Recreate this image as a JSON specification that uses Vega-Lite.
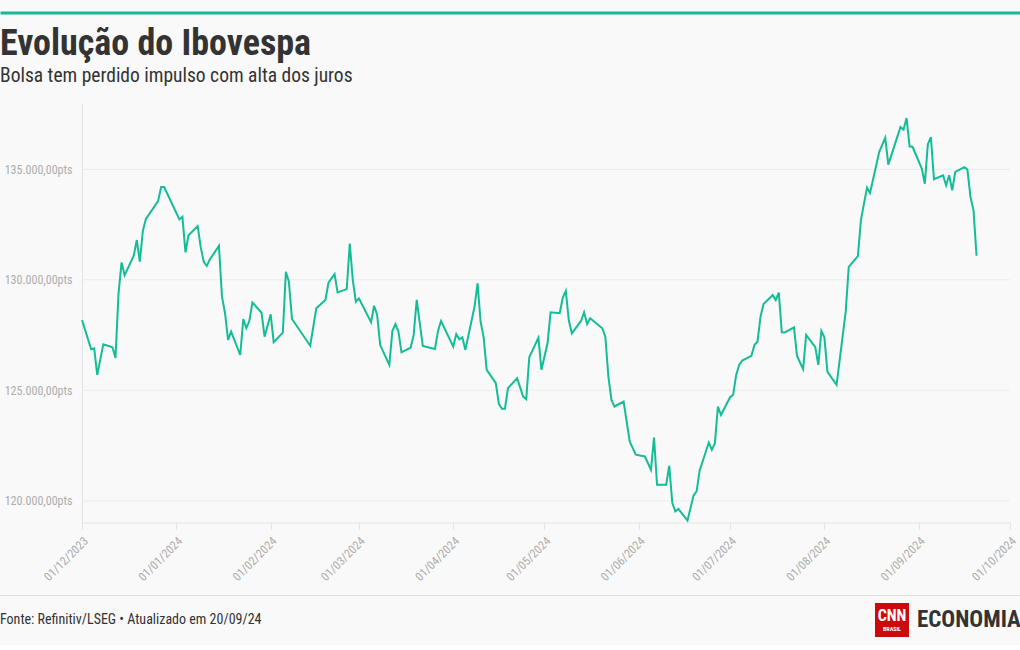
{
  "$schema": "https://vega.github.io/schema/vega-lite/v6.json",
  "background": "#f9f9f9",
  "padding": 0,
  "spacing": 12,
  "columns": 1,
  "bounds": "full",
  "resolve": {"scale": {"x": "independent", "y": "independent"}},
  "config": {
    "view": {"stroke": null},
    "font": "Roboto Condensed, Liberation Sans Narrow, Roboto, sans-serif"
  },
  "datasets": {
    "ibov": [
      {"date": "2023-12-01", "close": 128180},
      {"date": "2023-12-04", "close": 126860},
      {"date": "2023-12-05", "close": 126900},
      {"date": "2023-12-06", "close": 125700},
      {"date": "2023-12-08", "close": 127080},
      {"date": "2023-12-11", "close": 126950},
      {"date": "2023-12-12", "close": 126470},
      {"date": "2023-12-13", "close": 129390},
      {"date": "2023-12-14", "close": 130790},
      {"date": "2023-12-15", "close": 130210},
      {"date": "2023-12-18", "close": 131090},
      {"date": "2023-12-19", "close": 131800},
      {"date": "2023-12-20", "close": 130820},
      {"date": "2023-12-21", "close": 132220},
      {"date": "2023-12-22", "close": 132760},
      {"date": "2023-12-26", "close": 133560},
      {"date": "2023-12-27", "close": 134200},
      {"date": "2023-12-28", "close": 134200},
      {"date": "2024-01-02", "close": 132730},
      {"date": "2024-01-03", "close": 132850},
      {"date": "2024-01-04", "close": 131240},
      {"date": "2024-01-05", "close": 132020},
      {"date": "2024-01-08", "close": 132430},
      {"date": "2024-01-09", "close": 131490},
      {"date": "2024-01-10", "close": 130820},
      {"date": "2024-01-11", "close": 130630},
      {"date": "2024-01-12", "close": 130920},
      {"date": "2024-01-15", "close": 131540},
      {"date": "2024-01-16", "close": 129240},
      {"date": "2024-01-17", "close": 128490},
      {"date": "2024-01-18", "close": 127280},
      {"date": "2024-01-19", "close": 127660},
      {"date": "2024-01-22", "close": 126600},
      {"date": "2024-01-23", "close": 128230},
      {"date": "2024-01-24", "close": 127810},
      {"date": "2024-01-25", "close": 128140},
      {"date": "2024-01-26", "close": 128980},
      {"date": "2024-01-29", "close": 128510},
      {"date": "2024-01-30", "close": 127430},
      {"date": "2024-02-01", "close": 128440},
      {"date": "2024-02-02", "close": 127180},
      {"date": "2024-02-05", "close": 127610},
      {"date": "2024-02-06", "close": 130360},
      {"date": "2024-02-07", "close": 129910},
      {"date": "2024-02-08", "close": 128230},
      {"date": "2024-02-14", "close": 127020},
      {"date": "2024-02-16", "close": 128710},
      {"date": "2024-02-19", "close": 129090},
      {"date": "2024-02-20", "close": 129870},
      {"date": "2024-02-22", "close": 130260},
      {"date": "2024-02-23", "close": 129430},
      {"date": "2024-02-26", "close": 129580},
      {"date": "2024-02-27", "close": 131640},
      {"date": "2024-02-28", "close": 129990},
      {"date": "2024-02-29", "close": 129010},
      {"date": "2024-03-01", "close": 129160},
      {"date": "2024-03-05", "close": 128080},
      {"date": "2024-03-06", "close": 128830},
      {"date": "2024-03-07", "close": 128410},
      {"date": "2024-03-08", "close": 127050},
      {"date": "2024-03-11", "close": 126150},
      {"date": "2024-03-12", "close": 127690},
      {"date": "2024-03-13", "close": 128000},
      {"date": "2024-03-14", "close": 127660},
      {"date": "2024-03-15", "close": 126720},
      {"date": "2024-03-18", "close": 126930},
      {"date": "2024-03-19", "close": 127510},
      {"date": "2024-03-20", "close": 129090},
      {"date": "2024-03-22", "close": 127010},
      {"date": "2024-03-26", "close": 126870},
      {"date": "2024-03-27", "close": 127690},
      {"date": "2024-03-28", "close": 128140},
      {"date": "2024-04-01", "close": 126980},
      {"date": "2024-04-02", "close": 127540},
      {"date": "2024-04-03", "close": 127310},
      {"date": "2024-04-04", "close": 127400},
      {"date": "2024-04-05", "close": 126830},
      {"date": "2024-04-08", "close": 128780},
      {"date": "2024-04-09", "close": 129840},
      {"date": "2024-04-10", "close": 128110},
      {"date": "2024-04-11", "close": 127400},
      {"date": "2024-04-12", "close": 125930},
      {"date": "2024-04-15", "close": 125330},
      {"date": "2024-04-16", "close": 124390},
      {"date": "2024-04-17", "close": 124170},
      {"date": "2024-04-18", "close": 124170},
      {"date": "2024-04-19", "close": 125100},
      {"date": "2024-04-22", "close": 125550},
      {"date": "2024-04-24", "close": 124720},
      {"date": "2024-04-25", "close": 124600},
      {"date": "2024-04-26", "close": 126500},
      {"date": "2024-04-29", "close": 127380},
      {"date": "2024-04-30", "close": 125930},
      {"date": "2024-05-02", "close": 127130},
      {"date": "2024-05-03", "close": 128530},
      {"date": "2024-05-06", "close": 128490},
      {"date": "2024-05-07", "close": 129190},
      {"date": "2024-05-08", "close": 129500},
      {"date": "2024-05-09", "close": 128160},
      {"date": "2024-05-10", "close": 127580},
      {"date": "2024-05-13", "close": 128140},
      {"date": "2024-05-14", "close": 128530},
      {"date": "2024-05-15", "close": 128000},
      {"date": "2024-05-16", "close": 128260},
      {"date": "2024-05-20", "close": 127810},
      {"date": "2024-05-21", "close": 127430},
      {"date": "2024-05-22", "close": 125620},
      {"date": "2024-05-23", "close": 124570},
      {"date": "2024-05-24", "close": 124270},
      {"date": "2024-05-27", "close": 124490},
      {"date": "2024-05-29", "close": 122690},
      {"date": "2024-05-31", "close": 122090},
      {"date": "2024-06-03", "close": 122010},
      {"date": "2024-06-05", "close": 121410},
      {"date": "2024-06-06", "close": 122870},
      {"date": "2024-06-07", "close": 120730},
      {"date": "2024-06-10", "close": 120730},
      {"date": "2024-06-11", "close": 121590},
      {"date": "2024-06-12", "close": 119910},
      {"date": "2024-06-13", "close": 119530},
      {"date": "2024-06-14", "close": 119640},
      {"date": "2024-06-17", "close": 119110},
      {"date": "2024-06-19", "close": 120250},
      {"date": "2024-06-20", "close": 120430},
      {"date": "2024-06-21", "close": 121380},
      {"date": "2024-06-24", "close": 122640},
      {"date": "2024-06-25", "close": 122310},
      {"date": "2024-06-26", "close": 122610},
      {"date": "2024-06-27", "close": 124270},
      {"date": "2024-06-28", "close": 123890},
      {"date": "2024-07-01", "close": 124690},
      {"date": "2024-07-02", "close": 124800},
      {"date": "2024-07-03", "close": 125700},
      {"date": "2024-07-04", "close": 126150},
      {"date": "2024-07-05", "close": 126350},
      {"date": "2024-07-08", "close": 126560},
      {"date": "2024-07-09", "close": 127050},
      {"date": "2024-07-10", "close": 127200},
      {"date": "2024-07-11", "close": 128330},
      {"date": "2024-07-12", "close": 128910},
      {"date": "2024-07-15", "close": 129310},
      {"date": "2024-07-16", "close": 129090},
      {"date": "2024-07-17", "close": 129420},
      {"date": "2024-07-18", "close": 127630},
      {"date": "2024-07-19", "close": 127620},
      {"date": "2024-07-22", "close": 127850},
      {"date": "2024-07-23", "close": 126560},
      {"date": "2024-07-25", "close": 125960},
      {"date": "2024-07-26", "close": 127510},
      {"date": "2024-07-29", "close": 126950},
      {"date": "2024-07-30", "close": 126150},
      {"date": "2024-07-31", "close": 127690},
      {"date": "2024-08-01", "close": 127400},
      {"date": "2024-08-02", "close": 125840},
      {"date": "2024-08-05", "close": 125250},
      {"date": "2024-08-08", "close": 128560},
      {"date": "2024-08-09", "close": 130590},
      {"date": "2024-08-12", "close": 131070},
      {"date": "2024-08-13", "close": 132700},
      {"date": "2024-08-15", "close": 134170},
      {"date": "2024-08-16", "close": 133930},
      {"date": "2024-08-19", "close": 135780},
      {"date": "2024-08-21", "close": 136430},
      {"date": "2024-08-22", "close": 135210},
      {"date": "2024-08-26", "close": 136910},
      {"date": "2024-08-27", "close": 136790},
      {"date": "2024-08-28", "close": 137320},
      {"date": "2024-08-29", "close": 136040},
      {"date": "2024-08-30", "close": 136010},
      {"date": "2024-09-02", "close": 135030},
      {"date": "2024-09-03", "close": 134350},
      {"date": "2024-09-04", "close": 136130},
      {"date": "2024-09-05", "close": 136460},
      {"date": "2024-09-06", "close": 134550},
      {"date": "2024-09-09", "close": 134730},
      {"date": "2024-09-10", "close": 134280},
      {"date": "2024-09-11", "close": 134730},
      {"date": "2024-09-12", "close": 134050},
      {"date": "2024-09-13", "close": 134880},
      {"date": "2024-09-16", "close": 135100},
      {"date": "2024-09-17", "close": 134990},
      {"date": "2024-09-18", "close": 133750},
      {"date": "2024-09-19", "close": 133150},
      {"date": "2024-09-20", "close": 131090}
    ]
  },
  "concat": [
    {
      "width": 1020,
      "height": 12.5,
      "data": {"name": "ibov"},
      "mark": {"type": "point", "opacity": 0},
      "encoding": {
        "x": {
          "field": "close",
          "type": "quantitative",
          "scale": {"domain": [119000, 138000], "nice": false, "zero": false},
          "axis": {"orient": "bottom", "domainColor": "#17b89b", "domainWidth": 2.8, "ticks": false, "labels": false, "grid": false, "title": null}
        }
      }
    },
    {
      "width": 1010,
      "height": 420,
      "title": {
        "text": "Evolução do Ibovespa",
        "subtitle": "Bolsa tem perdido impulso com alta dos juros",
        "anchor": "start",
        "frame": "bounds",
        "font": "Roboto Condensed, Liberation Sans Narrow, Roboto, sans-serif",
        "fontSize": 36,
        "fontWeight": "bold",
        "color": "#333333",
        "subtitleFont": "Roboto Condensed, Liberation Sans Narrow, Roboto, sans-serif",
        "subtitleFontSize": 19.5,
        "subtitleColor": "#333333",
        "subtitlePadding": 4,
        "offset": 17
      },
      "layer": [
        {
          "data": {"values": [{}]},
          "mark": {"type": "rule", "color": "#ececec", "strokeWidth": 1},
          "encoding": {
            "x": {"datum": {"year": 2023, "month": 12, "date": 1, "utc": true}, "type": "temporal"},
            "x2": {"datum": {"year": 2024, "month": 10, "date": 1, "utc": true}},
            "y": {"datum": 120000, "type": "quantitative"}
          }
        },
        {
          "data": {"values": [{}]},
          "mark": {"type": "rule", "color": "#ececec", "strokeWidth": 1},
          "encoding": {
            "x": {"datum": {"year": 2023, "month": 12, "date": 1, "utc": true}, "type": "temporal"},
            "x2": {"datum": {"year": 2024, "month": 10, "date": 1, "utc": true}},
            "y": {"datum": 125000, "type": "quantitative"}
          }
        },
        {
          "data": {"values": [{}]},
          "mark": {"type": "rule", "color": "#ececec", "strokeWidth": 1},
          "encoding": {
            "x": {"datum": {"year": 2023, "month": 12, "date": 1, "utc": true}, "type": "temporal"},
            "x2": {"datum": {"year": 2024, "month": 10, "date": 1, "utc": true}},
            "y": {"datum": 130000, "type": "quantitative"}
          }
        },
        {
          "data": {"values": [{}]},
          "mark": {"type": "rule", "color": "#ececec", "strokeWidth": 1},
          "encoding": {
            "x": {"datum": {"year": 2023, "month": 12, "date": 1, "utc": true}, "type": "temporal"},
            "x2": {"datum": {"year": 2024, "month": 10, "date": 1, "utc": true}},
            "y": {"datum": 135000, "type": "quantitative"}
          }
        },
        {
          "data": {"values": [{}]},
          "mark": {"type": "rule", "color": "#e3e3e3", "strokeWidth": 1},
          "encoding": {
            "x": {"datum": {"year": 2023, "month": 12, "date": 1, "utc": true}, "type": "temporal"},
            "x2": {"datum": {"year": 2024, "month": 10, "date": 1, "utc": true}},
            "y": {"datum": 119000, "type": "quantitative"}
          }
        },
        {
          "data": {"name": "ibov"},
          "mark": {"type": "line", "color": "#13bd96", "strokeWidth": 2},
          "encoding": {
            "x": {
              "field": "date",
              "type": "temporal",
              "scale": {"type": "utc", "domain": [{"year": 2023, "month": 11, "date": 4, "hours": 1, "utc": true}, {"year": 2024, "month": 10, "date": 1, "utc": true}]},
              "axis": {
                "title": null,
                "labelExpr": "utcFormat(datum.value, '%d/%m/%Y')",
                "values": [
                  {"year": 2023, "month": 12, "date": 1, "utc": true},
                  {"year": 2024, "month": 1, "date": 1, "utc": true},
                  {"year": 2024, "month": 2, "date": 1, "utc": true},
                  {"year": 2024, "month": 3, "date": 1, "utc": true},
                  {"year": 2024, "month": 4, "date": 1, "utc": true},
                  {"year": 2024, "month": 5, "date": 1, "utc": true},
                  {"year": 2024, "month": 6, "date": 1, "utc": true},
                  {"year": 2024, "month": 7, "date": 1, "utc": true},
                  {"year": 2024, "month": 8, "date": 1, "utc": true},
                  {"year": 2024, "month": 9, "date": 1, "utc": true},
                  {"year": 2024, "month": 10, "date": 1, "utc": true}
                ],
                "labelAngle": -45,
                "labelAlign": "right",
                "labelBaseline": "top",
                "labelColor": "#adadad",
                "labelFontSize": 12,
                "labelPadding": 6,
                "labelFont": "Roboto Condensed, Liberation Sans Narrow, Roboto, sans-serif",
                "labelOverlap": false,
                "labelFlush": false,
                "tickColor": "#e3e3e3",
                "tickSize": 6,
                "domain": false,
                "grid": false
              }
            },
            "y": {
              "field": "close",
              "type": "quantitative",
              "scale": {"domain": [119000, 138000], "nice": false, "zero": false},
              "axis": {
                "title": null,
                "offset": -82,
                "values": [120000, 125000, 130000, 135000],
                "labelExpr": "replace(replace(replace(format(datum.value, ',.2f'), ',', 'X'), '.', ','), 'X', '.') + 'pts'",
                "labelColor": "#adadad",
                "labelFontSize": 12,
                "labelFont": "Roboto Condensed, Liberation Sans Narrow, Roboto, sans-serif",
                "labelPadding": 10,
                "ticks": false,
                "domainColor": "#e3e3e3",
                "grid": false
              }
            }
          }
        }
      ]
    },
    {
      "width": 1020,
      "height": 50,
      "data": {"values": [{}]},
      "layer": [
        {
          "mark": {"type": "text", "text": "Fonte: Refinitiv/LSEG • Atualizado em 20/09/24", "align": "left", "baseline": "middle", "fontSize": 14, "color": "#333333"},
          "encoding": {
            "x": {
              "datum": 0,
              "type": "quantitative",
              "scale": {"domain": [0, 1], "nice": false},
              "axis": {"orient": "top", "domainColor": "#dddddd", "domainWidth": 1, "ticks": false, "labels": false, "grid": false, "title": null, "offset": 0}
            }
          }
        },
        {
          "mark": {"type": "point", "shape": "square", "size": 1156, "filled": true, "color": "#cc0a0a", "opacity": 1, "strokeWidth": 0},
          "encoding": {"x": {"datum": 0.8745, "type": "quantitative"}}
        },
        {
          "mark": {"type": "text", "text": "CNN", "align": "center", "baseline": "middle", "fontSize": 16, "fontWeight": "bold", "color": "#ffffff", "dy": -4},
          "encoding": {"x": {"datum": 0.8745, "type": "quantitative"}}
        },
        {
          "mark": {"type": "text", "text": "BRASIL", "align": "center", "baseline": "middle", "fontSize": 6, "fontWeight": "bold", "color": "#ffffff", "dy": 9},
          "encoding": {"x": {"datum": 0.8745, "type": "quantitative"}}
        },
        {
          "mark": {"type": "text", "text": "ECONOMIA", "align": "left", "baseline": "middle", "fontSize": 23, "fontWeight": "bold", "color": "#333333"},
          "encoding": {"x": {"datum": 0.899, "type": "quantitative"}}
        }
      ]
    }
  ]
}
